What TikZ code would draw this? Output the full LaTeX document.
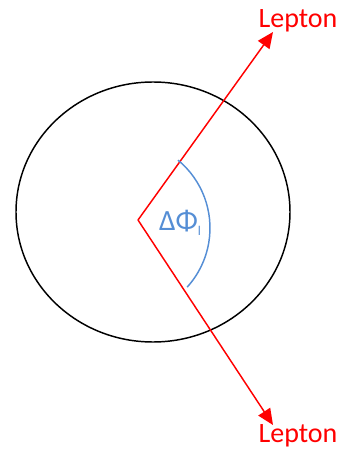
\documentclass[tikz,border=0pt]{standalone}
\usepackage{fontspec}
\setmainfont{Carlito}
\usetikzlibrary{arrows.meta}
\definecolor{anglecol}{RGB}{85,142,213}

\begin{document}
\begin{tikzpicture}[x=0.75pt,y=0.75pt,
    lepton/.style={->, >={Triangle[length=12pt,width=10.5pt]}, red, line width=1.1pt},
    leptonlabel/.style={text=red, font=\fontsize{21}{24}\selectfont, inner sep=0pt}]
  \useasboundingbox (0,0) rectangle (343,455);

  \draw[line width=1.1pt] (153,243) ellipse [x radius=137, y radius=130];

  \coordinate (vertex) at (138,235);
  \coordinate (tipup) at (273,423);
  \coordinate (tipdown) at (273,30);
  \node[leptonlabel] (lepup) at (298,434) {Lepton};
  \node[leptonlabel] (lepdown) at (298,19) {Lepton};

  \draw[lepton] (vertex) -- (tipup);
  \draw[lepton] (vertex) -- (tipdown);

  \draw[anglecol, line width=1.1pt] (122,227) ++(50.5:88) arc[start angle=50.5, end angle=-42.2, radius=88];
  \node[text=anglecol, font=\fontsize{22}{24}\selectfont, inner sep=0pt] (dphi) at (180,232) {ΔΦ\raisebox{-0.35ex}{\fontsize{10}{12}\selectfont l}};
\end{tikzpicture}
\end{document}
